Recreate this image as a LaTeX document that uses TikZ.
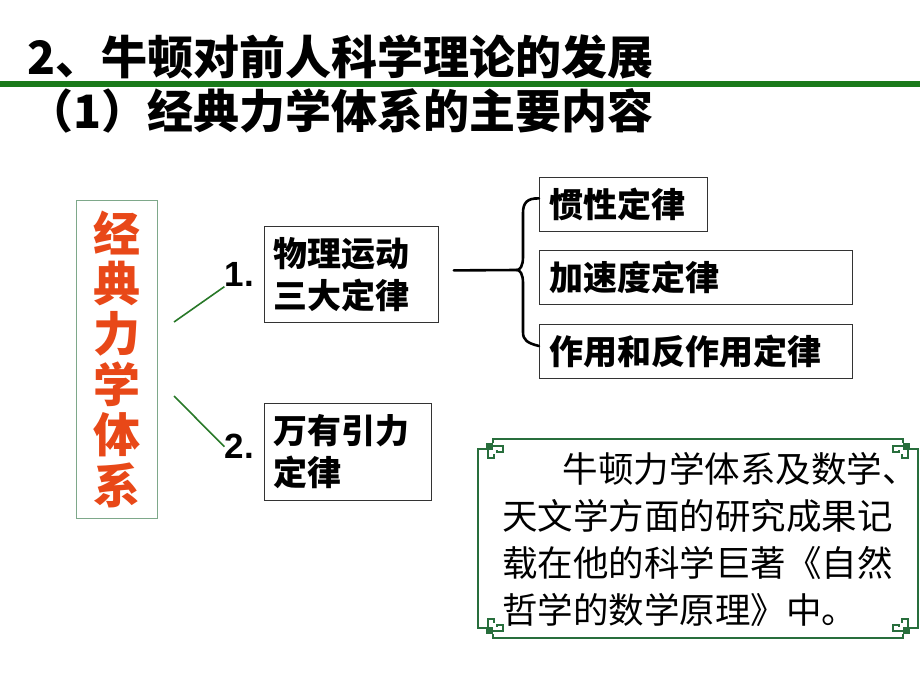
\documentclass[tikz,border=0pt]{standalone}
\usepackage{fontspec}
\setmainfont{Liberation Sans}
\newfontfamily\cjk{Noto Sans CJK SC}
\usetikzlibrary{positioning}
\definecolor{bargreen}{RGB}{26,122,26}
\definecolor{linkgreen}{RGB}{40,120,40}
\definecolor{framegreen}{RGB}{40,110,60}
\definecolor{sysred}{RGB}{232,72,24}

\begin{document}
\begin{tikzpicture}
	[x=1pt,y=-1pt,
	lawbox/.style={draw=black!80, line width=0.8pt, inner xsep=10pt, inner ysep=0pt, minimum height=54pt, align=left, font=\cjk\bfseries\fontsize{34}{40}\selectfont},
	itembox/.style={draw=black!80, line width=0.8pt, inner xsep=9pt, inner ysep=0pt, align=left, font=\cjk\bfseries\fontsize{34}{42}\selectfont},
	num/.style={inner sep=0pt, font=\bfseries\fontsize{35}{35}\selectfont},
	link/.style={linkgreen, line width=1.6pt},
	brace/.style={line width=2.6pt, line cap=round},
	fret/.style={framegreen, line width=1.4pt}];

	\useasboundingbox (0,0) rectangle (920,690);

	%Heading
	\node[anchor=west, inner sep=0pt, font=\cjk\bfseries\fontsize{46}{46}\selectfont] (title) at (27,57) {2、牛顿对前人科学理论的发展};
	\draw[bargreen, line width=6pt] (0,84) -- (920,84);
	\node[anchor=west, inner sep=0pt, font=\cjk\bfseries\fontsize{46}{46}\selectfont] (sub) at (27,111) {（1）经典力学体系的主要内容};

	%System
	\node[draw=framegreen!60, line width=0.8pt, minimum width=81pt, minimum height=318pt, inner sep=0pt, align=center, text=sysred, font=\cjk\bfseries\fontsize{47}{50.4}\selectfont] (sys) at (116.5,359) {经\\典\\力\\学\\体\\系};

	\node[itembox, anchor=north west, text width=156pt, minimum height=96pt] (phys) at (264,226) {物理运动\\三大定律};
	\node[itembox, text width=149pt, minimum height=97pt, below right=80pt and 0pt of phys.south west] (grav) {万有引力\\定律};
	\node[num, left=10pt of phys.west] (one) {1.};
	\node[num, left=10pt of grav.west, yshift=5pt] (two) {2.};

	\coordinate (s1) at (174,322);
	\coordinate (s2) at (174,396);
	\draw[link] (s1) -- (one.south west);
	\draw[link] (s2) -- (two.west);

	%Laws
	\node[lawbox, anchor=north west, text width=148pt] (law1) at (539,177) {惯性定律};
	\node[lawbox, text width=293pt, below right=18pt and 0pt of law1.south west] (law2) {加速度定律};
	\node[lawbox, text width=293pt, below right=19pt and 0pt of law2.south west] (law3) {作用和反作用定律};

	\coordinate (tip) at ([xshift=15pt,yshift=4pt]phys.east);
	\coordinate (bmid) at (517,270);
	\coordinate (btop) at ([yshift=6pt]law1.west);
	\coordinate (bbot) at ([yshift=5pt]law3.west);
	\draw[brace] (tip) -- (bmid);
	\draw[brace] (btop) .. controls (527,198) and (523,203) .. (523,213) -- (523,257)
		.. controls (523,266) and (520,270) .. (bmid)
		.. controls (520,270) and (523,274) .. (523,283) -- (523,332)
		.. controls (523,340) and (527,343) .. (bbot);

	%Note
	\draw[fret] (502,439) -- (894,439);
	\draw[fret] (502,638) -- (894,638);
	\draw[fret] (478,463) -- (478,614);
	\draw[fret] (918,463) -- (918,614);
	\foreach \cx/\cy/\sx/\sy in {478/439/1/1, 918/439/-1/1, 478/638/1/-1, 918/638/-1/-1}
	{
		\begin{scope}[shift={(\cx,\cy)}, xscale=\sx, yscale=\sy]
			\draw[fret] (0,24) -- (0,10) -- (8,10);
			\fill[framegreen] (8,4) rectangle (15,11);
			\draw[fret] (15,4) -- (15,0) -- (24,0);
			\draw[fret] (15,7) -- (25,7) -- (25,13) -- (19,13) -- (19,11);
			\draw[fret] (10,11) -- (10,19) -- (16,19) -- (16,15);
		\end{scope}
	}
	\node[anchor=north west, inner sep=0pt, align=left, font=\cjk\fontsize{35.5}{47}\selectfont] (note) at (502,452)
		{\hspace*{1.7em}牛顿力学体系及数学、\\天文学方面的研究成果记\\载在他的科学巨著《自然\\哲学的数学原理》中。};
\end{tikzpicture}
\end{document}
